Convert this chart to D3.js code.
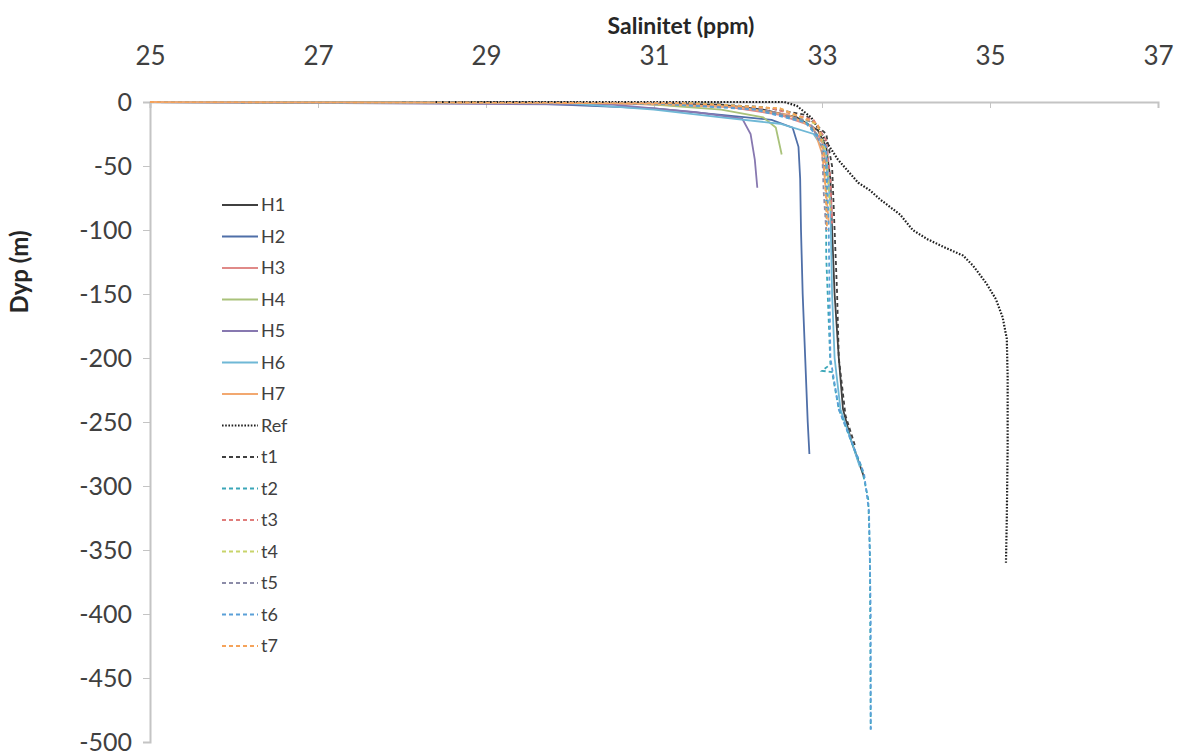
<!DOCTYPE html>
<html>
<head>
<meta charset="utf-8">
<script src="https://cdn.jsdelivr.net/npm/d3@7"></script>
<style>
  body { margin: 0; background: #fff; }
  text { font-family: Lato, "Open Sans", sans-serif; }
</style>
</head>
<body>
<div class="canvas"></div>
<script>
// margins and dimensions
const w = 1184;
const h = 753;
const margin = { top: 102, right: 24, bottom: 8, left: 150 };
const graphWidth = w - margin.left - margin.right;

// axis ticks
const xTicks = [25, 27, 29, 31, 33, 35, 37];
const yTicks = [0, -50, -100, -150, -200, -250, -300, -350, -400, -450, -500];

// profiles: [salinity (ppm), depth (m)]
const H1 = [[25.0, 0], [30.0, -0.5], [31.8, -2], [32.3, -6], [32.7, -12], [32.95, -22], [33.05, -35], [33.1, -60], [33.12, -100], [33.15, -150], [33.2, -200], [33.25, -240], [33.35, -265], [33.5, -293]];
const H2 = [[25.0, 0], [29.5, -1], [31.0, -5], [31.8, -10], [32.4, -14], [32.65, -20], [32.72, -35], [32.74, -60], [32.75, -100], [32.77, -150], [32.8, -200], [32.83, -250], [32.85, -275]];
const H3 = [[25.0, 0], [30.5, -1], [31.9, -4], [32.5, -10], [32.85, -18], [33.0, -30], [33.05, -50], [33.1, -75], [33.12, -90]];
const H4 = [[25.0, 0], [30.8, -1], [31.8, -6], [32.3, -12], [32.45, -20], [32.5, -35], [32.52, -41]];
const H5 = [[25.0, 0], [30.5, -2], [31.5, -8], [32.05, -13], [32.15, -25], [32.2, -45], [32.23, -67]];
const H6 = [[25.0, 0], [30.0, -1], [31.0, -6], [31.8, -12], [32.5, -17], [32.9, -25], [33.05, -40], [33.1, -80], [33.12, -150], [33.15, -200], [33.22, -240], [33.35, -265], [33.45, -285]];
const H7 = [[25.0, 0], [30.8, -1], [32.0, -4], [32.6, -10], [32.9, -20], [33.0, -40], [33.05, -70], [33.08, -95]];
const Ref = [[28.4, 0], [32.55, 0], [32.7, -3], [32.87, -12], [32.97, -22], [33.07, -33], [33.19, -45], [33.31, -54], [33.43, -63], [33.57, -69], [33.69, -76], [33.93, -88], [34.08, -100], [34.25, -107], [34.44, -113], [34.68, -120], [34.8, -128], [34.96, -142], [35.07, -154], [35.15, -168], [35.2, -185], [35.21, -215], [35.21, -270], [35.2, -325], [35.19, -360]];
const t1 = [[28.0, 0], [31.5, -1], [32.3, -4], [32.8, -10], [33.05, -25], [33.12, -50], [33.15, -100], [33.18, -150], [33.2, -200], [33.28, -245], [33.4, -270]];
const t2 = [[25.0, 0], [31.0, -1], [32.2, -5], [32.8, -15], [33.0, -30], [33.05, -60], [33.05, -120], [33.1, -205], [33.0, -210], [33.12, -211], [33.2, -240], [33.33, -262], [33.47, -285], [33.55, -310], [33.57, -350], [33.58, -490]];
const t3 = [[25.0, 0], [31.2, -1], [32.4, -5], [32.9, -14], [33.05, -30], [33.1, -60], [33.12, -95]];
const t4 = [[25.0, 0], [31.5, -1], [32.5, -5], [32.95, -18], [33.05, -40], [33.08, -70], [33.1, -85]];
const t5 = [[25.0, 0], [31.3, -1], [32.3, -6], [32.85, -15], [33.0, -35], [33.02, -70], [33.05, -100]];
const t6 = [[25.0, 0], [31.0, -1], [32.2, -6], [32.8, -16], [33.05, -35], [33.08, -100], [33.1, -200], [33.2, -240], [33.35, -265], [33.5, -290], [33.56, -320], [33.58, -400], [33.58, -492]];
const t7 = [[25.0, 0], [31.4, -1], [32.5, -5], [32.95, -17], [33.02, -40], [33.05, -80], [33.06, -100]];

const seriesNames = ["H1", "H2", "H3", "H4", "H5", "H6", "H7", "Ref", "t1", "t2", "t3", "t4", "t5", "t6", "t7"];
const seriesData = [H1, H2, H3, H4, H5, H6, H7, Ref, t1, t2, t3, t4, t5, t6, t7];

// line styles
const colors = {
  H1: "#404040", H2: "#4f6fa8", H3: "#e08a88", H4: "#a9c27a", H5: "#8778b0", H6: "#6fb8d6", H7: "#f2a870",
  Ref: "#202020", t1: "#404040", t2: "#3aa6b8", t3: "#e07d7b", t4: "#c8d46a", t5: "#8c8ca8", t6: "#5aa0d8", t7: "#f5a35a"
};
const dash = (name) => (name === "Ref" ? "1.6,1.6" : name.startsWith("t") ? "4,3" : null);

const svg = d3.select(".canvas").append("svg").attr("width", w).attr("height", h);

const x = d3.scaleLinear().domain([25, 37]).range([0, graphWidth - 2]);
const y = d3.scaleLinear().domain([0, -500]).range([0, 640]);

const graph = svg.append("g").attr("transform", `translate(${margin.left}, ${margin.top})`);

// top axis (at depth 0)
const xAxis = graph
  .append("g")
  .call(d3.axisTop(x).tickValues(xTicks).tickSize(-6).tickPadding(37).tickFormat((d) => String(d)));
xAxis.select(".domain").attr("stroke", "#c4c4c4").attr("stroke-width", 2);
xAxis.selectAll(".tick line").attr("stroke", "#c4c4c4");
xAxis.selectAll(".tick text").attr("fill", "#404040").style("font-size", "26px");

// left axis
const yAxis = graph
  .append("g")
  .call(d3.axisLeft(y).tickValues(yTicks).tickSize(7).tickPadding(11).tickFormat((d) => String(d)));
yAxis.select(".domain").attr("stroke", "#c4c4c4").attr("stroke-width", 2);
yAxis.selectAll(".tick line").attr("stroke", "#c4c4c4");
yAxis.selectAll(".tick text").attr("fill", "#404040").style("font-size", "25px");

// profiles
const line = d3.line().x((d) => x(d[0])).y((d) => y(d[1]));
graph
  .selectAll(".profile")
  .data(seriesNames.map((n, i) => ({ name: n, values: seriesData[i] })))
  .enter()
  .append("path")
  .attr("class", "profile")
  .attr("d", (d) => line(d.values))
  .attr("fill", "none")
  .attr("stroke", (d) => colors[d.name])
  .attr("stroke-width", (d) => (d.name === "Ref" ? 2.2 : 1.8))
  .attr("stroke-dasharray", (d) => dash(d.name));

// titles
svg
  .append("text")
  .attr("x", 681)
  .attr("y", 34)
  .attr("text-anchor", "middle")
  .attr("fill", "#262626")
  .style("font-size", "23px")
  .style("font-weight", "bold")
  .text("Salinitet (ppm)");

svg
  .append("text")
  .attr("transform", "translate(28, 272) rotate(-90)")
  .attr("text-anchor", "middle")
  .attr("fill", "#262626")
  .style("font-size", "24px")
  .style("font-weight", "bold")
  .text("Dyp (m)");

// legend
const legend = svg.append("g").attr("transform", "translate(222, 205)");
const rowH = 31.5;
legend
  .selectAll("line")
  .data(seriesNames)
  .enter()
  .append("line")
  .attr("x1", 0)
  .attr("x2", 36)
  .attr("y1", (d, i) => i * rowH)
  .attr("y2", (d, i) => i * rowH)
  .attr("stroke", (d) => colors[d])
  .attr("stroke-width", (d) => (d === "Ref" ? 2.2 : 1.8))
  .attr("stroke-dasharray", (d) => dash(d));
legend
  .selectAll("text")
  .data(seriesNames)
  .enter()
  .append("text")
  .attr("x", 39)
  .attr("y", (d, i) => i * rowH + 6)
  .attr("fill", "#404040")
  .style("font-size", "18px")
  .text((d) => d);
</script>
</body>
</html>
